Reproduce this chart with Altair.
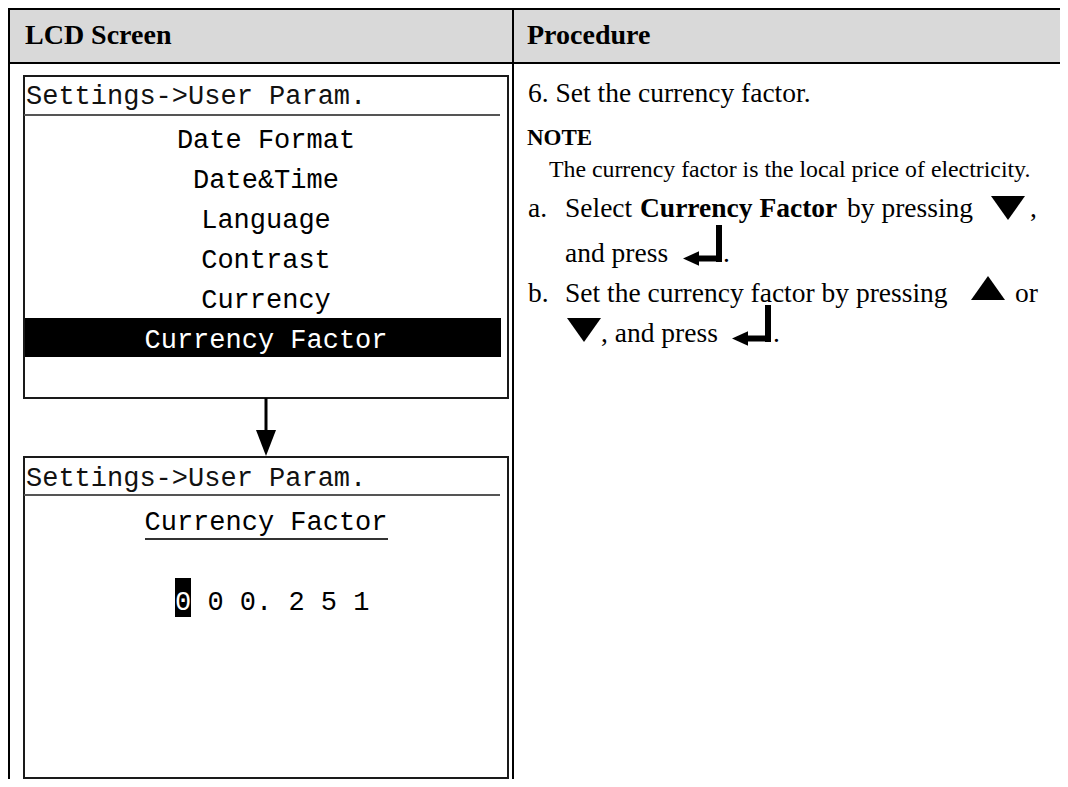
import altair as alt
import pandas as pd

# ---------------- content ----------------
header_labels = ["LCD Screen", "Procedure"]
lcd_title = "Settings->User Param."
menu_items = ["Date Format", "Date&Time", "Language", "Contrast", "Currency"]
selected_item = "Currency Factor"
edit_title = "Currency Factor"
cursor_digit = "0"
other_digits = "0 0. 2 5 1"
step_text = "6. Set the currency factor."
note_label = "NOTE"
note_text = "The currency factor is the local price of electricity."
line_a_plain = ["a.", "Select", "by pressing", ","]
line_a_bold = ["Currency Factor"]
line_a2 = ["and press", "."]
line_b = ["b.", "Set the currency factor by pressing", "or"]
line_b2 = [", and press", "."]

# ---------------- layout (page pixels) ----------------
header_x = [25, 527]
menu_base = [148, 188, 228, 268, 308]
line_a_plain_x = [528, 565, 847, 1030]
line_a_bold_x = [640]
line_b_x = [528, 565, 1015]

XS = alt.Scale(domain=[8, 1060], nice=False, zero=False)
YS = alt.Scale(domain=[8, 779], nice=False, zero=False, reverse=True)
SERIF = "Liberation Serif"
MONO = "Liberation Mono"
BODY = 27.5


def X(f="x"):
    return alt.X(f"{f}:Q", scale=XS, axis=None)


def Y(f="y"):
    return alt.Y(f"{f}:Q", scale=YS, axis=None)


def texts(xs, ys, ts, font, size, weight="normal", color="black", align="left"):
    df = pd.DataFrame({"x": xs, "y": ys, "t": ts})
    return alt.Chart(df).mark_text(
        align=align, baseline="alphabetic", font=font, fontSize=size,
        fontWeight=weight, color=color
    ).encode(x=X(), y=Y(), text="t:N")


def rules(rows):
    df = pd.DataFrame(rows, columns=["x", "x2", "y", "y2", "w", "c"])
    return alt.Chart(df).mark_rule(strokeCap="butt").encode(
        x=X(), x2="x2:Q", y=Y(), y2="y2:Q",
        strokeWidth=alt.StrokeWidth("w:Q", scale=None),
        color=alt.Color("c:N", scale=None),
    )


def rects(rows):
    df = pd.DataFrame(rows, columns=["x", "x2", "y", "y2", "c"])
    return alt.Chart(df).mark_rect().encode(
        x=X(), x2="x2:Q", y=Y(), y2="y2:Q",
        color=alt.Color("c:N", scale=None),
    )


def frames(rows):
    df = pd.DataFrame(rows, columns=["x", "x2", "y", "y2"])
    return alt.Chart(df).mark_rect(fillOpacity=0, stroke="#1a1a1a", strokeWidth=2).encode(
        x=X(), x2="x2:Q", y=Y(), y2="y2:Q"
    )


def tris(path, xs, ys, sizes):
    df = pd.DataFrame({"x": xs, "y": ys, "s": sizes})
    return alt.Chart(df).mark_point(
        shape=path, filled=True, fill="black", strokeWidth=0, opacity=1
    ).encode(x=X(), y=Y(), size=alt.Size("s:Q", scale=None))


DOWN = "M-1,-0.7L1,-0.7L0,0.7Z"
UP = "M-1,0.7L1,0.7L0,-0.7Z"
LEFT = "M-1,0L1,-0.9L1,0.9Z"
ARROW_DOWN = "M-1,-1.3L1,-1.3L0,1.3Z"

layers = []

# table header background and grid
layers.append(rects([[9, 1060, 9, 63, "#d9d9d9"]]))
layers.append(rules([
    [8, 1060, 9, 9, 2, "black"],
    [8, 1060, 63, 63, 2, "black"],
    [9, 9, 8, 779, 2, "black"],
    [513, 513, 8, 779, 2, "black"],
]))
layers.append(texts(header_x, [44, 44], header_labels, SERIF, 28, "bold"))

# LCD screens
layers.append(rects([
    [25, 501, 318, 357, "black"],
    [175, 191, 578, 617, "black"],
]))
layers.append(frames([[24, 508, 76, 398], [24, 508, 457, 778]]))
layers.append(rules([
    [24, 500, 115, 115, 2, "#555555"],
    [24, 500, 495, 495, 2, "#555555"],
    [145, 388, 539, 539, 2, "#333333"],
    [266, 266, 398, 432, 3, "black"],
]))
layers.append(tris(ARROW_DOWN, [266], [443], [400]))
layers.append(texts([26, 26], [104, 486], [lcd_title, lcd_title], MONO, 27, color="#111111"))
layers.append(texts([266] * len(menu_items), menu_base, menu_items, MONO, 27, align="center"))
layers.append(texts([266], [348], [selected_item], MONO, 27, color="white", align="center"))
layers.append(texts([266], [530], [edit_title], MONO, 27, align="center"))
layers.append(texts([175], [610], [cursor_digit], MONO, 27, color="white"))
layers.append(texts([207.4], [610], [other_digits], MONO, 27))

# procedure text
layers.append(texts([528], [102], [step_text], SERIF, BODY))
layers.append(texts([527], [145], [note_label], SERIF, 23, "bold"))
layers.append(texts([549], [177], [note_text], SERIF, 23.8))
layers.append(texts(line_a_plain_x, [217] * len(line_a_plain), line_a_plain, SERIF, BODY))
layers.append(texts(line_a_bold_x, [217], line_a_bold, SERIF, BODY, "bold"))
layers.append(texts([565, 723], [262, 262], line_a2, SERIF, BODY))
layers.append(texts(line_b_x, [302] * len(line_b), line_b, SERIF, BODY))
layers.append(texts([601, 773], [342, 342], line_b2, SERIF, BODY))

# key symbols
layers.append(tris(DOWN, [1008, 584], [208, 330], [1156, 1156]))
layers.append(tris(UP, [988], [288], [1156]))
layers.append(rules([
    [719, 719, 225, 262, 6, "black"],
    [696, 722, 258.5, 258.5, 6, "black"],
    [768, 768, 305, 342, 6, "black"],
    [745, 771, 338.5, 338.5, 6, "black"],
]))
layers.append(tris(LEFT, [691, 740], [258.5, 338.5], [256, 256]))

chart = alt.layer(*layers).properties(
    width=1052, height=771, padding=0, autosize="none", background="white"
).configure_view(stroke=None)

chart.save("out.html", embed_options={"renderer": "svg", "actions": False})
